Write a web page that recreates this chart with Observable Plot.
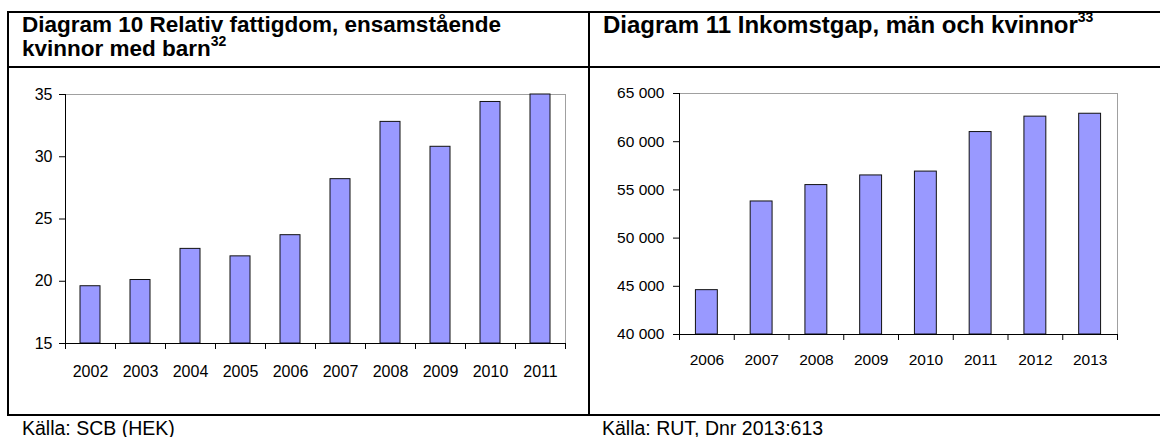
<!DOCTYPE html>
<html><head><meta charset="utf-8">
<script src="https://cdn.jsdelivr.net/npm/d3@7"></script>
<script src="https://cdn.jsdelivr.net/npm/@observablehq/plot@0.6"></script>
<style>
body{margin:0;background:#fff;}
#root{position:relative;width:1160px;height:437px;overflow:hidden;font-family:"Liberation Sans",Arial,sans-serif;color:#000;background:#fff;}
.line{position:absolute;background:#000;z-index:3;}
.title{position:absolute;font-weight:bold;font-size:22.5px;line-height:24px;white-space:nowrap;z-index:2;}
.title sup{font-size:14px;line-height:0;position:relative;top:-2px;}
.caption{position:absolute;font-size:19.5px;line-height:normal;white-space:nowrap;z-index:2;}
.chart{position:absolute;top:0;z-index:1;}
</style></head>
<body><div id="root">
<div class="chart" id="c1" style="left:0"></div>
<div class="chart" id="c2" style="left:580px"></div>
<div class="title" style="left:22px;top:13px">Diagram 10 Relativ fattigdom, ensamstående<br>kvinnor med barn<sup>32</sup></div>
<div class="title" style="left:603px;top:12.5px;font-size:24px">Diagram 11 Inkomstgap, män och kvinnor<sup>33</sup></div>
<div class="caption" style="left:22px;top:417px">Källa: SCB (HEK)</div>
<div class="caption" style="left:602px;top:417px">Källa: RUT, Dnr 2013:613</div>
<div class="line" style="left:7px;top:11px;width:1153px;height:2px"></div>
<div class="line" style="left:7px;top:66px;width:1153px;height:2px"></div>
<div class="line" style="left:7px;top:414px;width:1153px;height:2px"></div>
<div class="line" style="left:7px;top:11px;width:2px;height:405px"></div>
<div class="line" style="left:588px;top:11px;width:2px;height:405px"></div>
</div>
<script>
// Diagram 10: relative poverty, single women with children (%)
const povertyYears = [2002, 2003, 2004, 2005, 2006, 2007, 2008, 2009, 2010, 2011];
const povertyValues = [19.6, 20.1, 22.6, 22.0, 23.7, 28.2, 32.8, 30.8, 34.4, 35.0];
const povertyTicks = [15, 20, 25, 30, 35];

// Diagram 11: income gap, men and women (SEK)
const gapYears = [2006, 2007, 2008, 2009, 2010, 2011, 2012, 2013];
const gapValues = [44600, 53800, 55500, 56500, 56900, 61000, 62600, 62900];
const gapTicks = [40000, 45000, 50000, 55000, 60000, 65000];

const svFormat = d3.formatLocale({decimal: ",", thousands: "\u00a0", grouping: [3], currency: ["", " kr"]}).format(",d");

function barChart({years, values, ticks, width, height, margins, yFmt, fontSize, ytickPad, xtickPad}) {
  const data = years.map((y, i) => ({year: y, value: values[i]}));
  const xmin = years[0] - 0.5, xmax = years[years.length - 1] + 0.5;
  const bounds = d3.range(years.length + 1).map(i => xmin + i);
  const half = 0.2;
  const base = ticks[0];
  return Plot.plot({
    width, height, ...margins,
    style: {fontFamily: '"Liberation Sans", Arial, sans-serif', fontSize: fontSize + "px", color: "#000", background: "transparent"},
    x: {domain: [xmin, xmax], axis: null, label: null},
    y: {domain: [ticks[0], ticks[ticks.length - 1]], axis: null, label: null},
    marks: [
      Plot.frame({stroke: "#a0a0a0", strokeWidth: 1}),
      Plot.rectY(data, {x1: d => d.year - half, x2: d => d.year + half, y1: base, y2: "value", fill: "#9999ff", stroke: "#111", strokeWidth: 1}),
      Plot.ruleX([xmin], {stroke: "#000"}),
      Plot.ruleY([base], {stroke: "#000"}),
      Plot.axisY({ticks, label: null, tickSize: 6, tickPadding: ytickPad, tickFormat: yFmt, stroke: "#000", fill: "#000"}),
      Plot.axisX({ticks: years, label: null, tickSize: 0, tickPadding: xtickPad, tickFormat: d => String(d), fill: "#000"}),
      Plot.axisX({ticks: bounds, label: null, tickSize: 6, tickFormat: () => "", stroke: "#000"})
    ]
  });
}

document.getElementById("c1").append(barChart({
  years: povertyYears, values: povertyValues, ticks: povertyTicks,
  width: 580, height: 437,
  margins: {marginLeft: 65, marginRight: 15, marginTop: 94, marginBottom: 94},
  yFmt: d => String(d), fontSize: 16, ytickPad: 7, xtickPad: 22
}));

document.getElementById("c2").append(barChart({
  years: gapYears, values: gapValues, ticks: gapTicks,
  width: 580, height: 437,
  margins: {marginLeft: 99, marginRight: 43, marginTop: 93, marginBottom: 103},
  yFmt: svFormat, fontSize: 15.5, ytickPad: 9, xtickPad: 19
}));
</script>
</body></html>
